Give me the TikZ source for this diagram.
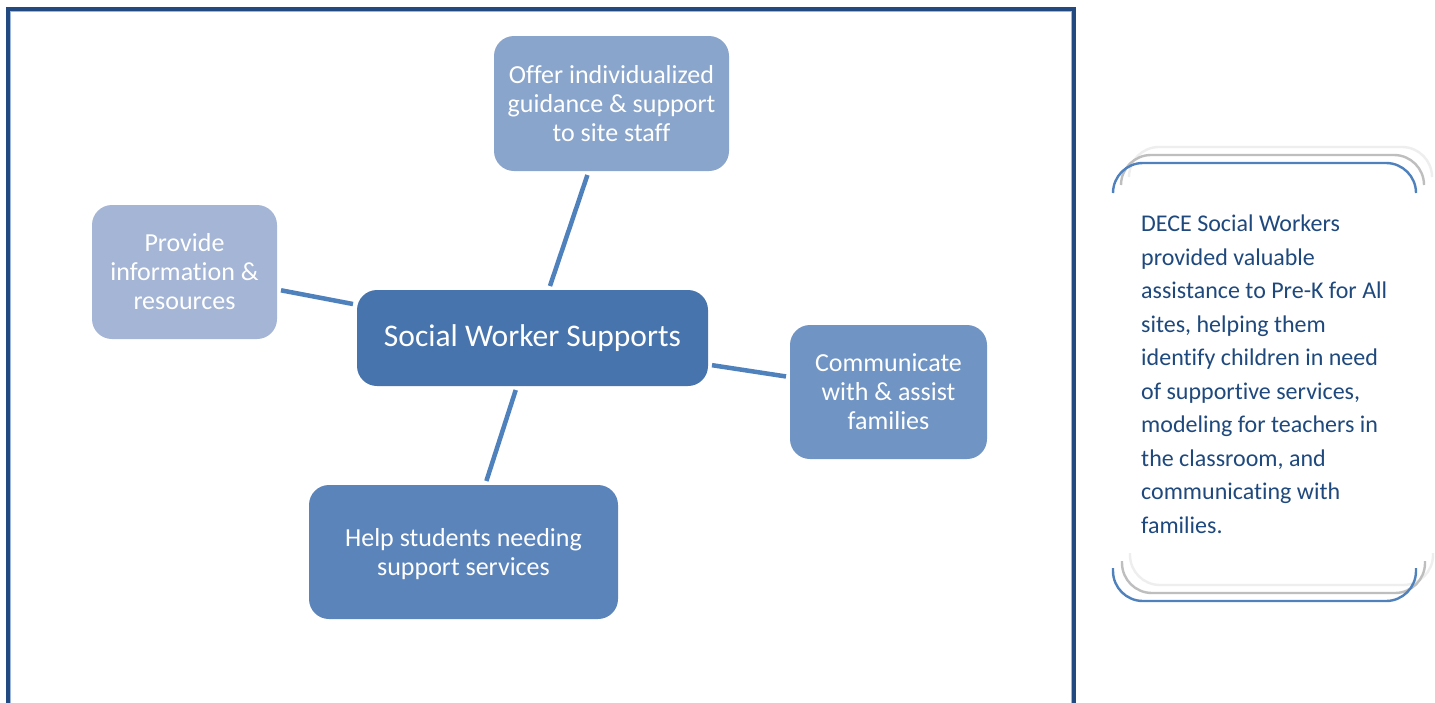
\documentclass[tikz,border=0pt]{standalone}
\usepackage{fontspec}
\setmainfont{Carlito}[Ligatures={NoCommon}]
\definecolor{frameblue}{HTML}{234A80}
\definecolor{framelight}{HTML}{9DB7DA}
\definecolor{linkblue}{HTML}{4F81BD}
\definecolor{hubfill}{HTML}{4874AD}
\definecolor{guidefill}{HTML}{8AA5CB}
\definecolor{infofill}{HTML}{A4B5D6}
\definecolor{familyfill}{HTML}{7094C3}
\definecolor{studentfill}{HTML}{5B84BA}
\definecolor{notetext}{HTML}{1F497D}
\definecolor{scrollgray}{HTML}{BEBEBE}
\definecolor{scrolllight}{HTML}{EEEEEE}
\begin{document}
\begin{tikzpicture}[x=1pt,y=-1pt,
  box/.style={rounded corners=20pt, inner sep=0pt, outer sep=4pt, text=white,
    align=center, font=\fontsize{26}{29}\selectfont},
  link/.style={draw=linkblue, line width=4.5pt},
  scroll/.style={line width=2.4pt, rounded corners=30pt}]
\useasboundingbox (0,0) rectangle (1435,702);
\fill[white] (0,0) rectangle (1435,702);

% page frame, open at the bottom
\draw[frameblue, line width=4pt] (8,710) -- (8,8.5) -- (1074,8.5) -- (1074,710);
\draw[framelight, line width=0.8pt] (10.6,710) -- (10.6,11) -- (1071.4,11) -- (1071.4,710);

% hub and its four supports
\node[box, fill=hubfill, minimum width=351pt, minimum height=96pt,
  font=\fontsize{31.5}{36}\selectfont] (hub) at (532.5,338) {\raisebox{-2pt}{Social Worker Supports}};
\node[box, fill=guidefill, minimum width=235pt, minimum height=135pt] (guide) at (611.5,103.5)
  {Offer individualized\\guidance \& support\\to site staff};
\node[box, fill=infofill, minimum width=185pt, minimum height=134pt] (info) at (184.5,272)
  {Provide\\information \&\\resources};
\node[box, fill=familyfill, minimum width=197pt, minimum height=134pt] (family) at (888.5,392)
  {Communicate\\with \& assist\\families};
\node[box, fill=studentfill, minimum width=309pt, minimum height=134pt] (student) at (463.5,552)
  {\rule{0pt}{22pt}Help students needing\\support services};

\draw[link] (guide) -- (hub);
\draw[link] (info) -- (hub);
\draw[link] (hub) -- (family);
\draw[link] (hub) -- (student);

% scroll-shaped side note
\draw[scroll, scrolllight] (1129,177) -- (1129,147) -- (1432,147) -- (1432,177);
\draw[scroll, scrollgray] (1121,185) -- (1121,155) -- (1424,155) -- (1424,185);
\draw[scroll, linkblue] (1113,193) -- (1113,163) -- (1416,163) -- (1416,193);
\draw[scroll, scrolllight] (1130,553) -- (1130,585) -- (1433,585) -- (1433,553);
\draw[scroll, scrollgray] (1122,561) -- (1122,593) -- (1425,593) -- (1425,561);
\draw[scroll, linkblue] (1113,568) -- (1113,601) -- (1416,601) -- (1416,568);

\node[anchor=north west, inner sep=0pt, align=left, text=notetext,
  font=\fontsize{24}{33.5}\selectfont] (note) at (1141,215)
  {DECE Social Workers\\provided valuable\\assistance to Pre-K for All\\sites, helping them\\identify children in need\\of supportive services,\\modeling for teachers in\\the classroom, and\\communicating with\\families.};
\end{tikzpicture}
\end{document}
